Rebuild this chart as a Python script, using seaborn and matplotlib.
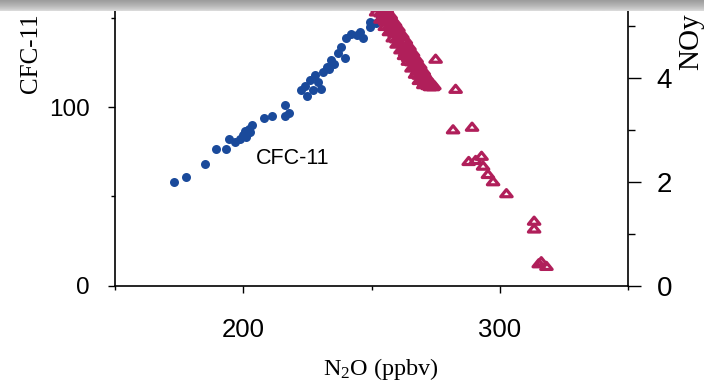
import numpy as np
import pandas as pd
import matplotlib
matplotlib.use("Agg")
import matplotlib.pyplot as plt
from matplotlib.path import Path
import seaborn as sns

# ---- data ----
n2o_cfc = [173.0, 177.7, 185.1, 189.2, 193.4, 194.4, 196.7, 198.7, 199.9, 200.6,
           201.4, 202.2, 203.3, 201.0, 202.8, 208.0, 211.2, 216.2, 217.8, 216.3,
           222.7, 224.7, 227.0, 230.5, 226.0, 227.9, 231.1, 232.5, 234.4, 233.5,
           237.0, 239.6, 238.3, 240.0, 244.2, 245.4, 246.5, 249.3, 249.3, 251.7,
           253.2, 224.0, 229.0, 235.5, 242.0, 255.0, 256.5]
cfc11 = [58.0, 60.8, 68.1, 76.7, 76.5, 82.1, 80.6, 81.9, 84.3, 86.6,
         84.9, 87.7, 89.9, 83.5, 86.0, 94.0, 94.8, 95.1, 96.8, 101.3,
         109.5, 106.2, 109.5, 110.1, 115.1, 117.9, 119.8, 122.6, 126.3, 121.1,
         130.1, 127.3, 133.8, 138.5, 140.3, 142.2, 138.5, 145.0, 147.8, 146.9,
         150.6, 112.0, 114.0, 124.0, 141.0, 153.0, 156.0]

n2o_noy = [252.4, 254.9, 253.6, 256.3, 254.5, 257.7, 255.4, 258.2, 256.9, 259.4,
           257.6, 260.2, 259.0, 261.6, 259.7, 262.3, 261.0, 263.8, 262.0, 264.9,
           263.1, 265.6, 264.3, 266.9, 265.5, 267.9, 266.4, 268.9, 267.7, 270.1,
           268.4, 271.2, 269.8, 272.3, 270.6, 273.2, 271.9,
           256.0, 251.8, 257.5, 253.5, 259.2, 255.2, 260.5, 256.8, 262.0, 258.3,
           263.4, 259.8, 264.8, 261.3, 266.2, 262.7, 267.6, 264.2, 269.0, 265.6,
           270.4, 267.0, 271.8, 268.5, 273.6, 270.2, 272.8, 274.5,
           254.2, 255.8, 257.3, 258.0, 259.6, 260.9, 261.7, 263.0, 264.4, 265.0,
           266.5, 267.2, 268.3, 269.5, 270.6, 271.4, 272.2, 273.0, 270.9,
           275.0, 282.8, 274.0, 281.8, 289.2, 287.9, 292.9, 290.6, 293.5, 295.4,
           297.4, 302.6, 313.4, 313.4, 316.2, 318.2, 315.2]
noy = [5.36, 5.32, 5.26, 5.24, 5.18, 5.16, 5.10, 5.06, 5.02, 4.98,
       4.94, 4.88, 4.86, 4.80, 4.76, 4.72, 4.68, 4.62, 4.58, 4.54,
       4.50, 4.46, 4.40, 4.36, 4.32, 4.28, 4.24, 4.20, 4.14, 4.12,
       4.06, 4.04, 3.98, 3.96, 3.92, 3.90, 3.86,
       5.33, 5.28, 5.22, 5.14, 5.08, 5.00, 4.98, 4.90, 4.85, 4.78,
       4.74, 4.66, 4.62, 4.55, 4.50, 4.44, 4.38, 4.33, 4.26, 4.20,
       4.14, 4.08, 4.02, 3.96, 3.90, 3.88, 3.84, 3.86,
       5.30, 5.20, 5.12, 5.04, 4.94, 4.86, 4.80, 4.70, 4.60, 4.52,
       4.42, 4.34, 4.24, 4.16, 4.10, 4.00, 3.94, 3.88, 3.92,
       4.37, 3.79, 3.84, 3.01, 3.06, 2.40, 2.50, 2.42, 2.31, 2.15,
       2.01, 1.78, 1.25, 1.10, 0.47, 0.38, 0.43]

x_major = [200, 300]
x_minor = [150, 250, 350]
left_major = [0, 100]
left_minor = [50, 150]
right_major = [0, 2, 4]
right_minor = [1, 3, 5]

blue = "#1a4a9b"
red = "#b01f5a"

sns.set_style("ticks")
plt.rcParams["font.family"] = ["Liberation Sans", "DejaVu Sans"]
plt.rcParams["mathtext.default"] = "regular"
for k in ("text.color", "axes.labelcolor", "xtick.color", "ytick.color",
          "xtick.labelcolor", "ytick.labelcolor"):
    plt.rcParams[k] = "black"

fig = plt.figure(figsize=(7.04, 3.83), dpi=100)
rect = [115/704, 97.4/383, 513/704, 285.6/383]
ax = fig.add_axes(rect)

df_c = pd.DataFrame({"N2O": n2o_cfc, "CFC11": cfc11})
df_n = pd.DataFrame({"N2O": n2o_noy, "NOy": noy})

sns.scatterplot(data=df_c, x="N2O", y="CFC11", ax=ax, color=blue, s=42,
                linewidth=0, legend=False, zorder=3)

ax2 = fig.add_axes(rect, sharex=ax, frameon=False)
ax2.yaxis.tick_right()
ax2.xaxis.set_visible(False)
tri = Path([(0, 0.62), (-1, -0.62), (1, -0.62), (0, 0.62)], closed=True)
sns.scatterplot(data=df_n, x="N2O", y="NOy", ax=ax2, marker=tri, s=68,
                color="none", edgecolor=red, linewidth=2.3, legend=False, zorder=3)

ax.set_xlim(150, 350)
ax.set_ylim(0, 160)
ax2.set_ylim(0, 5.5)

ax.set_xticks(x_major)
ax.set_xticks(x_minor, minor=True)
ax.set_yticks(left_major)
ax.set_yticks(left_minor, minor=True)
ax2.set_yticks(right_major)
ax2.set_yticks(right_minor, minor=True)

ax.set_xlabel("")
ax.set_ylabel("")
ax2.set_ylabel("")

ax.tick_params(axis="x", which="major", length=5, width=1, pad=18, labelsize=18.5)
ax.tick_params(axis="x", which="minor", length=3, width=1)
ax.tick_params(axis="y", which="major", length=5, width=1, pad=13, labelsize=17.5)
ax.tick_params(axis="y", which="minor", length=3, width=1)
ax2.tick_params(axis="y", which="major", length=9.5, width=1, pad=11, labelsize=20,
                right=True, labelright=True, left=False, labelleft=False)
ax2.tick_params(axis="y", which="minor", length=5, width=1, right=True, left=False)

ax.spines["right"].set_visible(True)
for s in ax.spines.values():
    s.set_linewidth(1.2)
    s.set_color("black")
ax.spines["top"].set_visible(False)

ax.text(204.8, 68.1, "CFC-11", fontsize=15.5, ha="left", va="baseline")

fig.text(31/704, 1 - 93/383, "CFC-11", rotation=90, ha="center", va="bottom",
         family="Liberation Serif", fontsize=18)
fig.text(691/704, 1 - 70/383, "NOy", rotation=90, ha="center", va="bottom",
         family="Liberation Serif", fontsize=21)
fig.text(381/704, 1 - 375/383, r"N$_2$O (ppbv)", ha="center", va="baseline",
         family="Liberation Serif", fontsize=17.5)

# gray fade strip across the top edge
gax = fig.add_axes([0, 1 - 11.5/383, 1, 11.5/383], zorder=10)
shade = np.array([[0.60], [0.62], [0.64], [0.66], [0.68], [0.70], [0.72], [0.75], [0.78], [0.81], [0.85]])
gax.imshow(shade, aspect="auto", cmap="gray", vmin=0, vmax=1, interpolation="bilinear")
gax.axis("off")

fig.savefig("out.png", dpi=100)
